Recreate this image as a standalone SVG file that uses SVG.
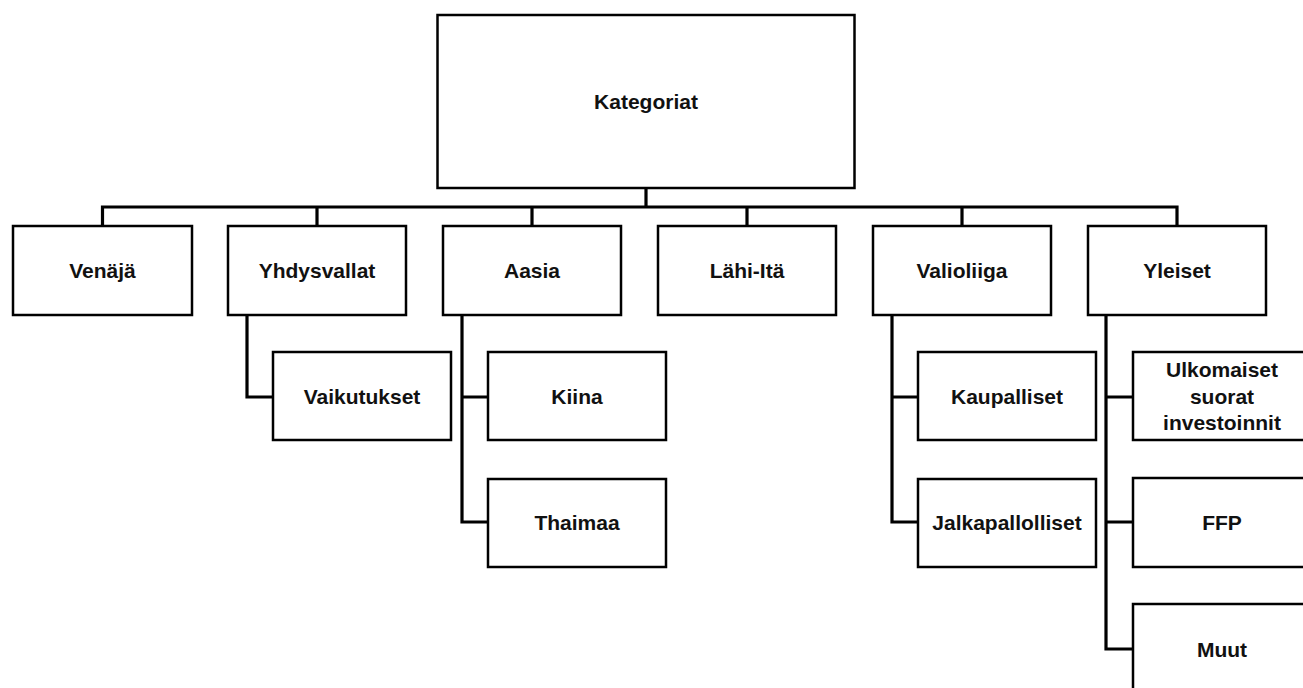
<svg xmlns="http://www.w3.org/2000/svg" width="1303" height="688" viewBox="0 0 1303 688">
<style>
.box{fill:#fff;stroke:#000;stroke-width:2.5}
.lbl{font-family:"Liberation Sans",Arial,sans-serif;font-weight:bold;font-size:21px;fill:#111;text-anchor:middle}
.con{fill:none;stroke:#000;stroke-width:3.2;stroke-linejoin:miter}
</style>
<rect width="1303" height="688" fill="#fff"/>
<g id="connectors">
<path class="con" d="M646 188V207M102.5 226V207H1177V226M317 207V226M532 207V226M747 207V226M962 207V226"/>
<path class="con" d="M247 315V397H273"/>
<path class="con" d="M462 315V522H488M462 397H488"/>
<path class="con" d="M892 315V522H918M892 397H918"/>
<path class="con" d="M1106 315V649H1133M1106 397H1133M1106 522H1133"/>
</g>
<g id="kategoriat"><rect class="box" x="437.5" y="15" width="417" height="173"/><text class="lbl" x="646" y="109">Kategoriat</text></g>
<g id="venaja"><rect class="box" x="13" y="226" width="179" height="89"/><text class="lbl" x="102.5" y="278">Venäjä</text></g>
<g id="yhdysvallat"><rect class="box" x="228" y="226" width="178" height="89"/><text class="lbl" x="317" y="278">Yhdysvallat</text></g>
<g id="aasia"><rect class="box" x="443" y="226" width="178" height="89"/><text class="lbl" x="532" y="278">Aasia</text></g>
<g id="lahi-ita"><rect class="box" x="658" y="226" width="178" height="89"/><text class="lbl" x="747" y="278">Lähi-Itä</text></g>
<g id="valioliiga"><rect class="box" x="873" y="226" width="178" height="89"/><text class="lbl" x="962" y="278">Valioliiga</text></g>
<g id="yleiset"><rect class="box" x="1088" y="226" width="178" height="89"/><text class="lbl" x="1177" y="278">Yleiset</text></g>
<g id="vaikutukset"><rect class="box" x="273" y="352" width="178" height="88"/><text class="lbl" x="362" y="403.5">Vaikutukset</text></g>
<g id="kiina"><rect class="box" x="488" y="352" width="178" height="88"/><text class="lbl" x="577" y="403.5">Kiina</text></g>
<g id="thaimaa"><rect class="box" x="488" y="479" width="178" height="88"/><text class="lbl" x="577" y="530">Thaimaa</text></g>
<g id="kaupalliset"><rect class="box" x="918" y="352" width="178" height="88"/><text class="lbl" x="1007" y="403.5">Kaupalliset</text></g>
<g id="jalkapallolliset"><rect class="box" x="918" y="479" width="178" height="88"/><text class="lbl" x="1007" y="530">Jalkapallolliset</text></g>
<g id="ulkomaiset"><rect class="box" x="1133" y="352" width="178" height="88"/><text class="lbl" x="1222" y="377">Ulkomaiset</text><text class="lbl" x="1222" y="403.5">suorat</text><text class="lbl" x="1222" y="430">investoinnit</text></g>
<g id="ffp"><rect class="box" x="1133" y="478" width="178" height="89"/><text class="lbl" x="1222" y="530">FFP</text></g>
<g id="muut"><rect class="box" x="1133" y="604" width="178" height="89"/><text class="lbl" x="1222" y="656.5">Muut</text></g>
</svg>
